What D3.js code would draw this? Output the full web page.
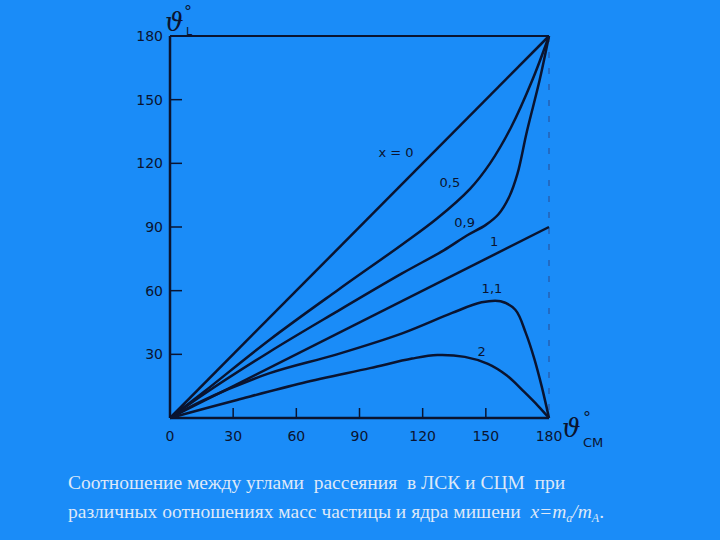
<!DOCTYPE html>
<html><head><meta charset="utf-8">
<script src="https://cdn.jsdelivr.net/npm/d3@7"></script>
<style>body{margin:0;background:#1a8cf8;}</style></head>
<body><svg id="c" width="720" height="540"></svg>
<script>
const xTicks=[0,30,60,90,120,150,180];
const yTicks=[30,60,90,120,150,180];
const yTickLabels=["30","60","90","120","150","180"];
const c0=[[0,0],[180,180]];
const c05=[[0,0],[15.7,12],[47.5,37],[79.3,60],[110.6,82],[126.8,94],[142.5,108],[152,120],[162,137],[172,159],[180,180]];
const c09=[[0,0],[15,10.5],[47,31],[79,50],[110,68],[130,79],[141,86],[150,91],[156,96],[161,104],[165,115],[169.5,135],[175.5,159],[180,180]];
const c1=[[0,0],[180,90]];
const c11=[[0,0],[15,8],[47,21],[79.3,30],[110.6,40],[134,49.5],[148,54.5],[157,55],[164,51],[169,40],[173,28],[176.5,15],[180,0]];
const c2=[[0,0],[31.8,8.5],[63,16.5],[95,23.5],[115,28],[127,29.7],[140,28.8],[151,25.5],[160,20],[168,12.5],[175,5.5],[180,0]];
const labels=[["x = 0",99,123],["0,5",128,109],["0,9",135,90],["1",152,81],["1,1",148,59],["2",146,29]];
const svg=d3.select("#c");
const x=d3.scaleLinear([0,180],[170,549]);
const y=d3.scaleLinear([0,180],[418,36]);
const ink="#0a1430";
const g=svg.append("g");
g.append("line").attr("x1",170).attr("x2",170).attr("y1",418).attr("y2",36).attr("stroke",ink).attr("stroke-width",2.5);
g.append("line").attr("x1",170).attr("x2",549).attr("y1",418).attr("y2",418).attr("stroke",ink).attr("stroke-width",2.5);
g.append("line").attr("x1",170).attr("x2",549).attr("y1",36).attr("y2",36).attr("stroke",ink).attr("stroke-width",2);
g.append("line").attr("x1",549).attr("x2",549).attr("y1",36).attr("y2",418).attr("stroke","#2a4a90").attr("stroke-width",1).attr("stroke-dasharray","6,10");
const tf="'DejaVu Sans', sans-serif";
xTicks.forEach(t=>{
 if(t>0&&t<180) g.append("line").attr("x1",x(t)).attr("x2",x(t)).attr("y1",418).attr("y2",408).attr("stroke",ink).attr("stroke-width",1.5);
 g.append("text").attr("x",x(t)).attr("y",441).attr("text-anchor","middle").attr("font-family",tf).attr("font-size",14).attr("fill",ink).text(t);
});
yTicks.forEach((t,i)=>{
 if(t<180) g.append("line").attr("x1",170).attr("x2",182).attr("y1",y(t)).attr("y2",y(t)).attr("stroke",ink).attr("stroke-width",1.5);
 g.append("text").attr("x",163).attr("y",y(t)+5).attr("text-anchor","end").attr("font-family",tf).attr("font-size",14).attr("fill",ink).text(yTickLabels[i]);
});
const line=d3.line().x(d=>x(d[0])).y(d=>y(d[1])).curve(d3.curveCatmullRom.alpha(0.5));
[c0,c05,c09,c1,c11,c2].forEach(d=>g.append("path").attr("d",line(d)).attr("fill","none").attr("stroke",ink).attr("stroke-width",2.5));
labels.forEach(l=>g.append("text").attr("x",x(l[1])).attr("y",y(l[2])).attr("font-family",tf).attr("font-size",13).attr("fill",ink).text(l[0]));
g.append("text").attr("x",165).attr("y",31).attr("font-family","'DejaVu Serif',serif").attr("font-style","italic").attr("font-size",26).attr("fill",ink).text("ϑ");
g.append("text").attr("x",184).attr("y",17).attr("font-family",tf).attr("font-size",16).attr("fill",ink).text("°");
g.append("text").attr("x",186).attr("y",35).attr("font-family",tf).attr("font-size",11).attr("fill",ink).text("L");
g.append("text").attr("x",562).attr("y",437).attr("font-family","'DejaVu Serif',serif").attr("font-style","italic").attr("font-size",26).attr("fill",ink).text("ϑ");
g.append("text").attr("x",583).attr("y",423).attr("font-family",tf).attr("font-size",16).attr("fill",ink).text("°");
g.append("text").attr("x",583).attr("y",447).attr("font-family",tf).attr("font-size",13).attr("fill",ink).text("CM");
const cf="'Liberation Serif', serif", cc="#dde8f8";
svg.append("text").attr("x",68).attr("y",489).attr("font-family",cf).attr("font-size",19.5).attr("fill",cc).attr("xml:space","preserve").text("Соотношение между углами  рассеяния  в ЛСК и СЦМ  при");
const t2=svg.append("text").attr("x",68).attr("y",518).attr("font-family",cf).attr("font-size",19.5).attr("fill",cc).attr("xml:space","preserve");
t2.append("tspan").text("различных оотношениях масс частицы и ядра мишени  ");
t2.append("tspan").attr("font-style","italic").text("x=m");
t2.append("tspan").attr("font-style","italic").attr("font-size",12).attr("dy",4).text("a");
t2.append("tspan").attr("font-style","italic").attr("dy",-4).text("/m");
t2.append("tspan").attr("font-style","italic").attr("font-size",12).attr("dy",4).text("A");
t2.append("tspan").attr("dy",-4).text(".");
</script></body></html>
